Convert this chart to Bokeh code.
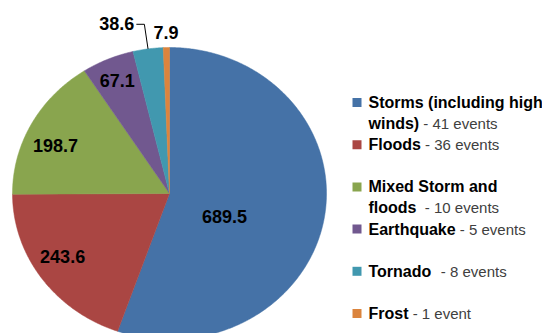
import math
from bokeh.plotting import figure
from bokeh.models import Range1d, ColumnDataSource
from bokeh.core.properties import value
from bokeh.embed import file_html
from bokeh.resources import INLINE

# ---- data ----
categories = ["Storms (including high winds)", "Floods", "Mixed Storm and floods",
              "Earthquake", "Tornado", "Frost"]
values = [689.5, 243.6, 198.7, 67.1, 38.6, 7.9]
value_labels = ["689.5", "243.6", "198.7", "67.1", "38.6", "7.9"]
legend_lines = [["Storms (including high", "winds)"], ["Floods"], ["Mixed Storm and", "floods"],
                ["Earthquake"], ["Tornado"], ["Frost"]]
legend_suffix = [" - 41 events", " - 36 events", "  - 10 events", " - 5 events",
                 "  - 8 events", " - 1 event"]
colors = ["#4572A7", "#AA4643", "#89A54E", "#71588F", "#4198AF", "#DB843D"]

# ---- layout ----
W, H = 542, 333
CX, CY, RX, RY = 169, 193, 157, 146
FONT = "Liberation Sans"

p = figure(width=W, height=H, x_range=Range1d(0, W), y_range=Range1d(H, 0),
           output_backend="svg", toolbar_location=None, min_border=0)
p.axis.visible = False
p.grid.visible = False
p.outline_line_color = None
p.background_fill_color = "white"
p.border_fill_color = "white"

def polar(deg, r=1.0):
    a = math.radians(deg)
    return CX + RX * r * math.sin(a), CY - RY * r * math.cos(a)

total = sum(values)
starts, ends = [], []
acc = 0.0
for v in values:
    starts.append(acc / total * 360)
    acc += v
    ends.append(acc / total * 360)
mids = [(s + e) / 2 for s, e in zip(starts, ends)]

xs, ys = [], []
for s, e in zip(starts, ends):
    n = max(4, int((e - s) * 2))
    px, py = [CX], [CY]
    for k in range(n + 1):
        x, y = polar(s + (e - s) * k / n)
        px.append(x); py.append(y)
    xs.append(px); ys.append(py)
p.patches(xs, ys, fill_color=colors, line_color=colors, line_width=0.5)

# inside labels
label_r = [0.384, 0.807, 0.797, 0.845]
label_shift = [14.7, 3.0, -4.0, 0.0]
lx, ly, lt = [], [], []
for i in range(4):
    x, y = polar(mids[i] + label_shift[i], label_r[i])
    lx.append(x); ly.append(y); lt.append(value_labels[i])
# outside: frost
x, y = polar(mids[5], 1.10)
lx.append(x); ly.append(y); lt.append(value_labels[5])
p.text(lx, ly, text=lt, text_font=value(FONT), text_font_style="bold",
       text_font_size="18px", text_align="center", text_baseline="middle", text_color="#000000")

# tornado label with leader
p0 = polar(mids[4], 1.0)
p1 = polar(mids[4], 1.17)
p2 = (p1[0] - 8, p1[1])
p.line([p0[0], p1[0], p2[0]], [p0[1], p1[1], p2[1]], line_color="#000000", line_width=1)
p.text([p2[0] - 2], [p2[1] - 1], text=[value_labels[4]], text_font=value(FONT),
       text_font_style="bold", text_font_size="18px", text_align="right",
       text_baseline="middle", text_color="#000000")

# legend
BOLD_W = {' ': 278, '(': 333, ')': 333, 'a': 556, 'c': 556, 'd': 611, 'e': 556, 'g': 611,
          'h': 611, 'i': 278, 'k': 556, 'l': 278, 'm': 889, 'n': 611, 'o': 611, 'q': 611,
          'r': 389, 's': 556, 't': 333, 'u': 611, 'w': 778, 'x': 556, 'E': 667, 'F': 611,
          'M': 833, 'S': 667, 'T': 611, 'f': 333}
BOLD_SIZE, REG_SIZE = 16, 15
def bold_width(s):
    return sum(BOLD_W.get(c, 556) for c in s) / 1000 * BOLD_SIZE

SQ_X, TX_X, Y0, SLOT, LINE = 356.5, 368, 102, 42.2, 21
sq_x, sq_y = [], []
bx, by, bt = [], [], []
sx, sy, st = [], [], []
for i, lines in enumerate(legend_lines):
    y = Y0 + SLOT * i
    sq_x.append(SQ_X); sq_y.append(y)
    for j, ln in enumerate(lines):
        bx.append(TX_X); by.append(y + LINE * j); bt.append(ln)
    last_y = y + LINE * (len(lines) - 1)
    suf = legend_suffix[i]
    nsp = len(suf) - len(suf.lstrip(' '))
    sx.append(TX_X + bold_width(lines[-1]) + nsp * 0.278 * REG_SIZE)
    sy.append(last_y)
    st.append(suf.strip())

p.rect(sq_x, sq_y, width=9, height=9, fill_color=colors, line_color=None)
p.text(bx, by, text=bt, text_font=value(FONT), text_font_style="bold",
       text_font_size=f"{BOLD_SIZE}px", text_align="left", text_baseline="middle",
       text_color="#000000")
p.text(sx, sy, text=st, text_font=value(FONT), text_font_size=f"{REG_SIZE}px",
       text_align="left", text_baseline="middle", text_color="#404040")

open("out.html", "w").write(file_html(p, INLINE))
